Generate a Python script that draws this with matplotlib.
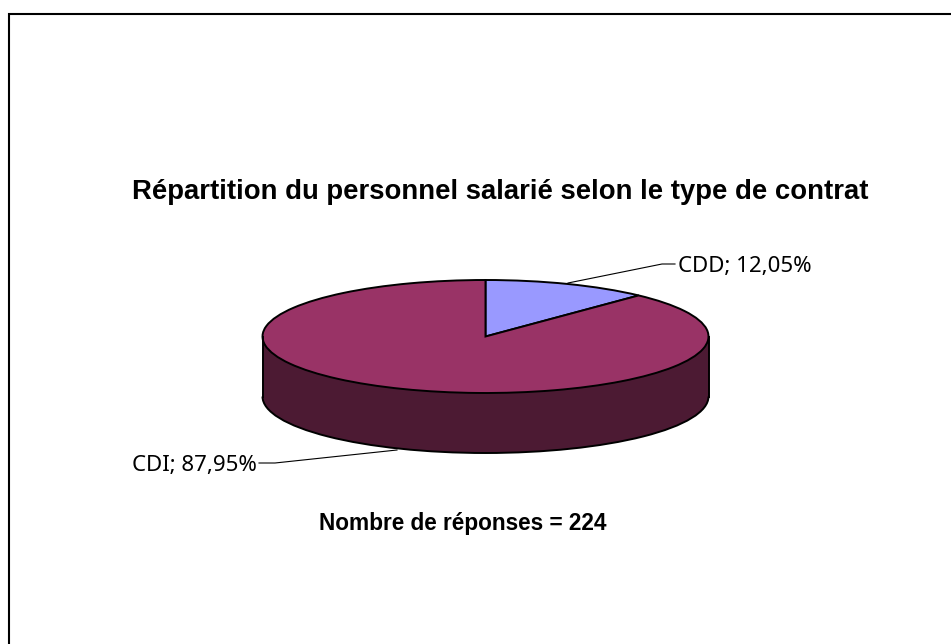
import matplotlib
matplotlib.use("Agg")
import matplotlib.pyplot as plt
from matplotlib.patches import Rectangle, Arc

W, H = 951, 644

labels = ['CDD', 'CDI']
values = [12.05, 87.95]
title = 'Répartition du personnel salarié selon le type de contrat'
note = 'Nombre de réponses = 224'

top_colors = ['#9999FF', '#993366']
side_colors = ['#4C1A33', '#4C1A33']

plt.rcParams['font.family'] = ['Liberation Sans', 'DejaVu Sans']

fig = plt.figure(figsize=(W / 100, H / 100), dpi=100, facecolor='white')

# pie axes: radius 1 = half ellipse width / height in pixels
cx, cy = 485.5, 336.5
rx, ry = 223.0, 56.5
depth = 60.0 / ry

ax = fig.add_axes([(cx - rx) / W, 1 - (cy + ry) / H, 2 * rx / W, 2 * ry / H])
ax.patch.set_alpha(0)

# side wall first, then the top on it
ax.pie(values, center=(0, -depth), radius=1, startangle=90, counterclock=False,
       colors=side_colors, wedgeprops={'edgecolor': 'none', 'clip_on': False}, frame=False)
ax.add_patch(Rectangle((-1, -depth), 2, depth, facecolor=side_colors[1], edgecolor='none', clip_on=False))
ax.plot([-1, -1], [0, -depth], color='black', lw=1.4, clip_on=False)
ax.plot([1, 1], [0, -depth], color='black', lw=1.4, clip_on=False)
ax.add_patch(Arc((0, -depth), 2, 2, theta1=180, theta2=360, color='black', lw=1.4, clip_on=False))
ax.pie(values, radius=1, startangle=90, counterclock=False, colors=top_colors,
       wedgeprops={'edgecolor': 'black', 'linewidth': 1.4, 'clip_on': False}, frame=False)
ax.set_aspect('auto')
ax.set_xlim(-1, 1)
ax.set_ylim(-1, 1)
ax.axis('off')

# page coords in pixels, y going down like the picture
bg = fig.add_axes([0, 0, 1, 1])
bg.set_xlim(0, W)
bg.set_ylim(H, 0)
bg.axis('off')
bg.patch.set_alpha(0)

# frame only has top and left edges inside the image
bg.plot([8.5, 8.5, W], [H, 13.5, 13.5], color='black', lw=1.5, solid_joinstyle='miter')

bg.text(500, 199, title, ha='center', va='baseline', fontsize=19.8, fontweight='bold', color='black')
bg.text(463, 530, note, ha='center', va='baseline', fontsize=16.3, fontweight='bold', color='black')

bg.text(678, 271.5, f'{labels[0]}; {values[0]:.2f}%'.replace('.', ','), ha='left', va='baseline',
        family=['Noto Sans'], fontsize=16, color='black')
bg.text(132, 471, f'{labels[1]}; {values[1]:.2f}%'.replace('.', ','), ha='left', va='baseline',
        family=['Noto Sans'], fontsize=16, color='black')
bg.plot([568, 662, 675], [283, 264, 264], color='black', lw=0.8)
bg.plot([259, 275, 397], [463, 463, 450], color='black', lw=0.8)

fig.savefig('out.png', dpi=100, facecolor='white')
